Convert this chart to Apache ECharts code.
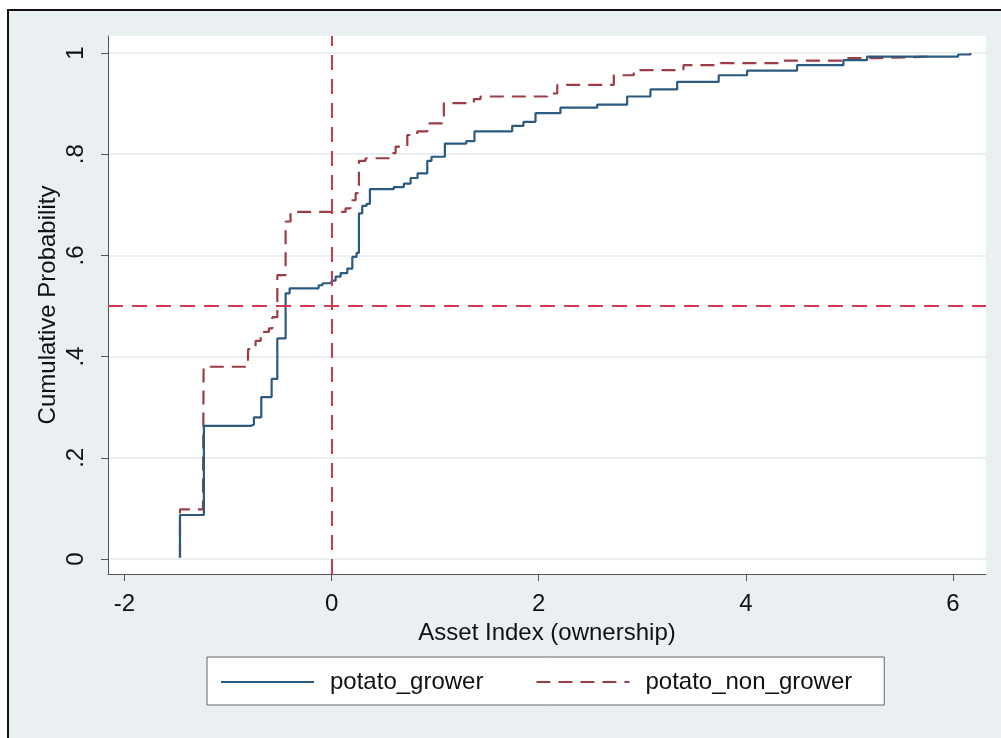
<!DOCTYPE html>
<html>

<head>
    <meta charset="UTF-8">
    <style type="text/css">
        html, body {
            margin: 0;
            padding: 0;
            background: #fff;
        }

        #chart {
            width: 1001px;
            height: 738px;
        }
    </style>
</head>

<body>
    <div id="chart"></div>
    <script src="https://cdn.jsdelivr.net/npm/echarts@6/dist/echarts.min.js"></script>
    <script type="text/javascript">
        'use strict';
        // values: [asset index, cumulative probability]
        var growerX = [-1.464, -1.464, -1.233, -0.782, -0.750, -0.679, -0.579, -0.524, -0.444, -0.405, -0.125, -0.087,
            0.0, 0.039, 0.087, 0.152, 0.200, 0.241, 0.264, 0.296, 0.338, 0.370, 0.601, 0.698, 0.763, 0.830, 0.924, 0.965,
            1.094, 1.300, 1.380, 1.744, 1.853, 1.969, 2.210, 2.565, 2.854, 3.079, 3.337, 3.738, 4.012, 4.495, 4.942,
            5.171, 6.050, 6.168];
        var growerY = [0.003, 0.087, 0.263, 0.266, 0.280, 0.320, 0.356, 0.436, 0.525, 0.535, 0.541, 0.545,
            0.550, 0.558, 0.565, 0.574, 0.597, 0.605, 0.683, 0.698, 0.702, 0.731, 0.735, 0.742, 0.753, 0.762, 0.787, 0.795,
            0.821, 0.826, 0.845, 0.856, 0.864, 0.881, 0.892, 0.898, 0.914, 0.928, 0.943, 0.956, 0.965, 0.976, 0.986,
            0.993, 0.997, 1.0];
        var nonGrowerX = [-1.464, -1.464, -1.242, -1.236, -0.808, -0.806, -0.734, -0.685, -0.605, -0.572, -0.524, -0.444,
            -0.396, 0.135, 0.183, 0.232, 0.264, 0.328, 0.570, 0.618, 0.731, 0.827, 0.924, 1.084, 1.374, 1.438, 2.082,
            2.179, 2.725, 2.918, 3.398, 3.755, 4.334, 4.942, 5.300, 5.800];
        var nonGrowerY = [0.003, 0.098, 0.103, 0.380, 0.387, 0.415, 0.431, 0.449, 0.456, 0.478, 0.561, 0.667,
            0.686, 0.693, 0.709, 0.723, 0.787, 0.792, 0.802, 0.815, 0.838, 0.845, 0.861, 0.901, 0.909, 0.914, 0.920,
            0.937, 0.956, 0.966, 0.976, 0.980, 0.985, 0.990, 0.993, 0.997];

        var seriesNames = ['potato_grower', 'potato_non_grower'];
        var xTicks = [-2, 0, 2, 4, 6];
        var xTickLabels = ['-2', '0', '2', '4', '6'];
        var yTicks = [0, 0.2, 0.4, 0.6, 0.8, 1];
        var yTickLabels = ['0', '.2', '.4', '.6', '.8', '1'];
        var refX = 0;
        var refY = 0.5;

        function pairs(xs, ys) {
            return xs.map(function (x, i) { return [x, ys[i]]; });
        }

        function tickLabel(ticks, labels) {
            return function (v) {
                for (var i = 0; i < ticks.length; i++) {
                    if (Math.abs(ticks[i] - v) < 1e-6) return labels[i];
                }
                return '';
            };
        }

        var font = 'Liberation Sans, Arial, sans-serif';
        var axisColor = '#555';

        var chart = echarts.init(document.getElementById('chart'));
        chart.setOption({
            animation: false,
            backgroundColor: '#fff',
            textStyle: { fontFamily: font },
            graphic: [{
                type: 'rect',
                z: -100,
                shape: { x: 8, y: 10, width: 1200, height: 900 },
                style: { fill: '#eaf0f2', stroke: '#111', lineWidth: 2 }
            }],
            grid: {
                left: 108,
                right: 15,
                top: 36,
                bottom: 164,
                show: true,
                backgroundColor: '#fff',
                borderWidth: 0
            },
            legend: {
                data: seriesNames,
                left: 207,
                top: 657,
                backgroundColor: '#fff',
                borderColor: '#666',
                borderWidth: 1,
                padding: [13, 32, 11, 13],
                itemWidth: 93,
                itemHeight: 2,
                itemGap: 52,
                itemStyle: { opacity: 0 },
                textStyle: { fontSize: 24, color: '#111', padding: [0, 0, 0, 11] }
            },
            xAxis: {
                type: 'value',
                min: -2.159,
                max: 6.319,
                name: 'Asset Index (ownership)',
                nameLocation: 'middle',
                nameGap: 47,
                nameTextStyle: { fontSize: 24, color: '#111' },
                axisLine: { onZero: false, lineStyle: { color: axisColor, width: 1 } },
                axisTick: { length: 7, lineStyle: { color: axisColor }, customValues: xTicks },
                axisLabel: { fontSize: 24, color: '#111', margin: 18, customValues: xTicks, formatter: tickLabel(xTicks, xTickLabels) },
                splitLine: { show: false }
            },
            yAxis: {
                type: 'value',
                min: -0.0296,
                max: 1.0336,
                name: 'Cumulative Probability',
                nameLocation: 'middle',
                nameGap: 48,
                nameMoveOverlap: false,
                nameTextStyle: { fontSize: 24, color: '#111' },
                axisLine: { show: true, onZero: false, lineStyle: { color: axisColor, width: 1 } },
                axisTick: { show: true, length: 7, lineStyle: { color: axisColor }, customValues: yTicks },
                axisLabel: { fontSize: 24, color: '#111', margin: 20, rotate: 90, customValues: yTicks, formatter: tickLabel(yTicks, yTickLabels) },
                splitLine: { show: true, lineStyle: { color: '#e3ebee', width: 1.5 } }
            },
            series: [{
                name: seriesNames[0],
                type: 'line',
                step: 'end',
                symbol: 'none',
                data: pairs(growerX, growerY),
                itemStyle: { color: '#2b5a80' },
                lineStyle: { color: '#2b5a80', width: 2.2 },
                z: 3
            }, {
                name: seriesNames[1],
                type: 'line',
                step: 'end',
                symbol: 'none',
                data: pairs(nonGrowerX, nonGrowerY),
                itemStyle: { color: '#9a3d47' },
                lineStyle: { color: '#9a3d47', width: 2.2, type: [14, 8] },
                z: 2,
                markLine: {
                    silent: true,
                    symbol: 'none',
                    label: { show: false },
                    lineStyle: { color: '#cf3a50', width: 2, type: [15, 9] },
                    data: [{ xAxis: refX }, { yAxis: refY }]
                }
            }]
        });
    </script>
</body>

</html>
